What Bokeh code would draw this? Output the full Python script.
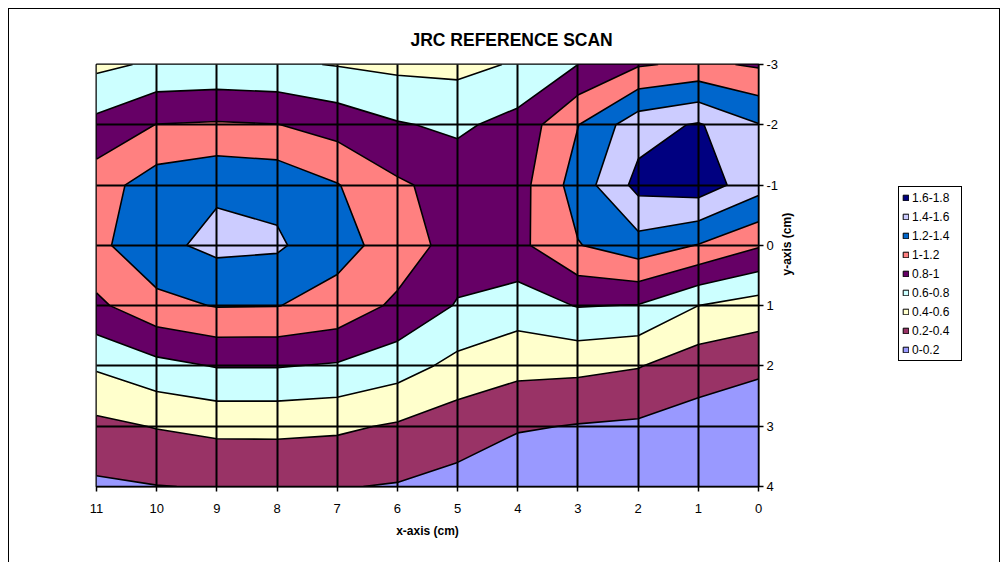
import numpy as np
from bokeh.plotting import figure
from bokeh.layouts import row
from bokeh.models import Range1d, FixedTicker, Legend, LegendItem
from bokeh.embed import file_html
from bokeh.resources import INLINE

title_text = "JRC REFERENCE SCAN"
x_label = "x-axis (cm)"
y_label = "y-axis (cm)"

# grid positions (cm)
x_positions = [0, 1, 2, 3, 4, 5, 6, 7, 8, 9, 10, 11]
y_positions = [-3, -2, -1, 0, 1, 2, 3, 4]
x_tick_labels = ["0", "1", "2", "3", "4", "5", "6", "7", "8", "9", "10", "11"]
y_tick_labels = ["-3", "-2", "-1", "0", "1", "2", "3", "4"]

# scan values, one row per y position, columns x = 0 .. 11
z_y_m3 = [0.975, 1.04, 0.98, 0.80, 0.62, 0.544, 0.553, 0.59, 0.63, 0.645, 0.63, 0.555]
z_y_m2 = [1.41, 1.62, 1.52, 1.195, 0.87, 0.764, 0.816, 0.92, 1.005, 1.02, 1.005, 0.855]
z_y_m1 = [1.48, 1.71, 1.66, 1.29, 0.92, 0.92, 1.03, 1.21, 1.34, 1.37, 1.30, 1.11]
z_y_0 = [1.02, 1.19, 1.32, 1.19, 0.95, 0.90, 1.126, 1.26, 1.43, 1.45, 1.35, 1.15]
z_y_1 = [0.513, 0.60, 0.79, 0.81, 0.70, 0.785, 0.958, 1.136, 1.205, 1.21, 1.14, 0.96]
z_y_2 = [0.25, 0.29, 0.41, 0.45, 0.46, 0.54, 0.69, 0.78, 0.81, 0.81, 0.74, 0.625]
z_y_3 = [0.02, 0.12, 0.17, 0.19, 0.22, 0.29, 0.378, 0.434, 0.45, 0.45, 0.41, 0.351]
z_y_4 = [0.01, 0.03, 0.05, 0.08, 0.04, 0.14, 0.187, 0.21, 0.22, 0.21, 0.195, 0.167]

levels = [0.0, 0.2, 0.4, 0.6, 0.8, 1.0, 1.2, 1.4, 1.6, 1.8]
band_labels = ["0-0.2", "0.2-0.4", "0.4-0.6", "0.6-0.8", "0.8-1",
               "1-1.2", "1.2-1.4", "1.4-1.6", "1.6-1.8"]
band_colors = ["#9999FF", "#993366", "#FFFFCC", "#CCFFFF", "#660066",
               "#FF8080", "#0066CC", "#CCCCFF", "#000080"]

z = np.array([z_y_m3, z_y_m2, z_y_m1, z_y_0, z_y_1, z_y_2, z_y_3, z_y_4])

FONT = "Liberation Sans"

p = figure(frame_width=662, frame_height=422,
           x_range=Range1d(11, 0), y_range=Range1d(4, -3),
           y_axis_location="right", output_backend="svg", toolbar_location=None,
           min_border_left=87, min_border_right=70, min_border_top=55, min_border_bottom=76,
           background_fill_color="white", border_fill_color="white",
           outline_line_color="black", outline_line_width=2)

# title, centred over the whole chart area
p.title.text = title_text
p.title.align = "left"
p.title.offset = 314
p.title.standoff = 30
p.title.text_font = FONT
p.title.text_font_style = "bold"
p.title.text_font_size = "17.5px"
p.title.text_color = "black"

p.contour(x_positions, y_positions, z, levels, fill_color=band_colors,
          line_color="black", line_width=1.6)

# grid on top of the bands
for g in (p.xgrid, p.ygrid):
    g.level = "guide"
    g.grid_line_color = "black"
    g.grid_line_width = 2
    g.grid_line_alpha = 1.0

p.xaxis.ticker = FixedTicker(ticks=x_positions)
p.yaxis.ticker = FixedTicker(ticks=y_positions)
p.xaxis.major_label_overrides = dict(zip(x_positions, x_tick_labels))
p.yaxis.major_label_overrides = dict(zip(y_positions, y_tick_labels))
for ax in (p.xaxis, p.yaxis):
    ax.minor_tick_line_color = None
    ax.major_tick_in = 0
    ax.major_tick_out = 5
    ax.major_tick_line_color = "black"
    ax.major_tick_line_width = 1.5
    ax.axis_line_color = "black"
    ax.axis_line_width = 1.5
    ax.major_label_text_font = FONT
    ax.major_label_text_font_size = "13px"
    ax.major_label_text_color = "black"
    ax.axis_label_text_font = FONT
    ax.axis_label_text_font_style = "bold"
    ax.axis_label_text_font_size = "12px"
    ax.axis_label_text_color = "black"
p.xaxis.major_label_standoff = 12
p.yaxis.major_label_standoff = 3
p.xaxis.axis_label = x_label
p.xaxis.axis_label_standoff = 8
p.yaxis.axis_label = y_label
p.yaxis.axis_label_standoff = 6
yax = p.yaxis[0]
if "axis_label_orientation" in yax.properties():
    yax.axis_label_orientation = float(np.pi / 2)

# legend panel to the right of the chart
q = figure(width=171, height=553, x_range=Range1d(0, 1), y_range=Range1d(0, 1),
           output_backend="svg", toolbar_location=None,
           min_border_left=0, min_border_right=0, min_border_top=0, min_border_bottom=0,
           background_fill_color="white", border_fill_color="white",
           outline_line_color=None)
q.axis.visible = False
q.grid.visible = False
q.title.visible = False

items = []
for lab, col in reversed(list(zip(band_labels, band_colors))):
    # swatch-only renderer (no visible mark), used just for the legend key
    r = q.quad(left=[np.nan], right=[np.nan], top=[np.nan], bottom=[np.nan],
               fill_color=col, line_color="black", line_width=1)
    items.append(LegendItem(label=lab, renderers=[r]))

legend = Legend(items=items, location=(70, 125),
                border_line_color="black", border_line_width=1, border_line_alpha=1.0,
                background_fill_color="white", background_fill_alpha=1.0,
                label_text_font=FONT, label_text_font_size="12px", label_text_color="black",
                glyph_width=7, glyph_height=7, label_standoff=3,
                spacing=4, padding=3, margin=0, label_height=15, label_width=46)
q.add_layout(legend)

layout = row(p, q, spacing=0)
layout.styles = {"margin-left": "8px", "margin-top": "8px",
                 "border-top": "1px solid black", "border-left": "1px solid black",
                 "border-right": "1px solid black"}

open("out.html", "w").write(file_html(layout, INLINE))
